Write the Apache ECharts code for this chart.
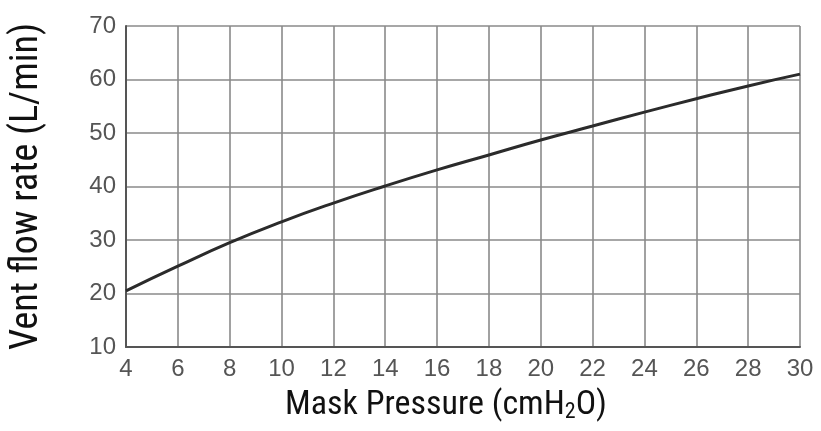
<!DOCTYPE html>
<html><head><meta charset="utf-8">
<script src="https://cdn.jsdelivr.net/npm/echarts@6/dist/echarts.min.js"></script>
<style>html,body{margin:0;padding:0;background:#fff}#c{width:821px;height:431px}</style>
</head><body><div id="c"></div>
<script>
const pressure = [4, 6, 8, 10, 12, 14, 16, 18, 20, 22, 24, 26, 28, 30];
const flowRate = [20.5, 25.1, 29.5, 33.4, 36.9, 40.1, 43.1, 45.9, 48.7, 51.3, 53.9, 56.4, 58.8, 61.0];
const xName = 'Mask Pressure (cmH{sub|2}O)';
const yName = 'Vent flow rate (L/min)';

const condensed = '"Liberation Sans Narrow", "Roboto Condensed", "Arial Narrow", sans-serif';
const tickFont = '"Liberation Sans", Arial, sans-serif';
const chart = echarts.init(document.getElementById('c'), null, {renderer: 'canvas'});
chart.setOption({
  animation: false,
  backgroundColor: '#fff',
  grid: {left: 125, right: 21, top: 26, bottom: 84},
  xAxis: {
    type: 'value', min: 4, max: 30, interval: 2,
    name: xName, nameLocation: 'middle', nameGap: 40,
    nameTextStyle: {fontFamily: condensed, fontSize: 34, color: '#111', padding: [0, 34, 0, 0],
      rich: {sub: {fontFamily: condensed, fontSize: 22, color: '#111', verticalAlign: 'bottom', padding: [14, 0, 0, 0]}}},
    axisLine: {show: true, lineStyle: {color: '#555', width: 2}},
    axisTick: {show: false},
    axisLabel: {fontFamily: tickFont, fontSize: 24, color: '#555', margin: 10},
    splitLine: {show: true, lineStyle: {color: '#8a8a8a', width: 1.6}}
  },
  yAxis: {
    type: 'value', min: 10, max: 70, interval: 10,
    name: yName, nameLocation: 'middle', nameGap: 80,
    nameTextStyle: {fontFamily: condensed, fontSize: 38, color: '#111'},
    axisLine: {show: true, lineStyle: {color: '#555', width: 2}},
    axisTick: {show: false},
    axisLabel: {fontFamily: tickFont, fontSize: 24, color: '#555', margin: 10},
    splitLine: {show: true, lineStyle: {color: '#8a8a8a', width: 1.6}}
  },
  series: [{
    type: 'line', data: pressure.map((p, i) => [p, flowRate[i]]),
    smooth: true, showSymbol: false,
    lineStyle: {color: '#2b2b2b', width: 3}
  }]
});
</script></body></html>
